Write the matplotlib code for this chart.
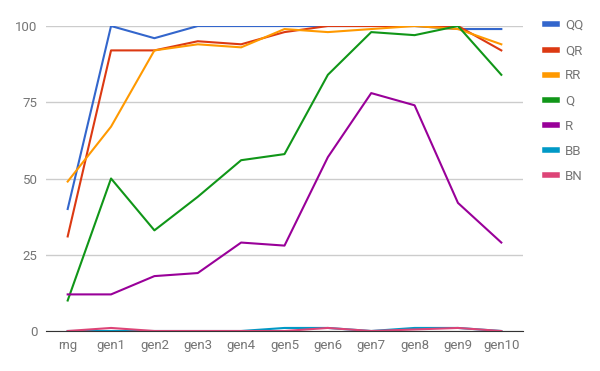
import matplotlib
matplotlib.use("Agg")
import matplotlib.pyplot as plt
from matplotlib.lines import Line2D

plt.rcParams['font.family'] = ['Roboto', 'DejaVu Sans']

cats = ["rng", "gen1", "gen2", "gen3", "gen4", "gen5", "gen6", "gen7", "gen8", "gen9", "gen10"]

QQ = [40, 100, 96, 100, 100, 100, 100, 100, 100, 99, 99]
QR = [31, 92, 92, 95, 94, 98, 100, 100, 100, 100, 92]
RR = [49, 67, 92, 94, 93, 99, 98, 99, 100, 99, 94]
Q = [10, 50, 33, 44, 56, 58, 84, 98, 97, 100, 84]
R = [12, 12, 18, 19, 29, 28, 57, 78, 74, 42, 29]
BB = [0, 0, 0, 0, 0, 1, 1, 0, 1, 1, 0]
BN = [0, 1, 0, 0, 0, 0, 1, 0, 0.5, 1, 0]

series = [("QQ", QQ, "#3366cc"), ("QR", QR, "#dc3912"), ("RR", RR, "#ff9900"),
          ("Q", Q, "#109618"), ("R", R, "#990099"), ("BB", BB, "#0099c6"),
          ("BN", BN, "#dd4477")]

fig = plt.figure(figsize=(6, 3.71), dpi=100)
ax = fig.add_axes([46 / 600, 40 / 371, 477 / 600, 305 / 371])

x = range(len(cats))
for name, vals, col in series:
    ax.plot(x, vals, color=col, lw=1.5, label=name, solid_joinstyle="round")

ax.set_xlim(-0.5, len(cats) - 0.5)
ax.set_ylim(0, 100)
ax.set_yticks([0, 25, 50, 75, 100])
ax.set_xticks(list(x))
ax.set_xticklabels(cats)
ax.grid(axis="y", color="#cccccc", lw=1)
ax.set_axisbelow(True)
for s in ["top", "right", "left"]:
    ax.spines[s].set_visible(False)
ax.spines["bottom"].set_color("#333333")
ax.tick_params(length=0, labelsize=9.5, colors="#757575", pad=6)

handles = [Line2D([], [], color=c, lw=4) for _, _, c in series]
fig.legend(handles, [n for n, _, _ in series], loc="upper left",
           bbox_to_anchor=(545 / 600, 1 - 19 / 371), frameon=False,
           fontsize=9.5, labelcolor="#757575", handlelength=0.9,
           handletextpad=0.6, labelspacing=0.92, borderaxespad=0, borderpad=0)

fig.savefig("out.png", dpi=100)
